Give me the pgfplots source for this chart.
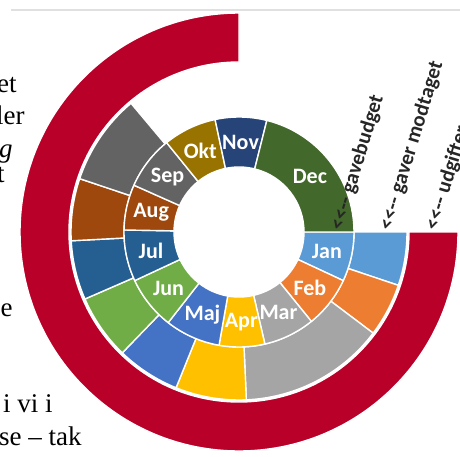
\documentclass[border=0pt]{standalone}
\usepackage{pgfplots}
\usepackage{pgfplotstable}
\pgfplotsset{compat=1.18}
\usepackage{fontspec}
\setmainfont{Liberation Serif}
\newfontfamily\calibri{Carlito}
\definecolor{cJan}{HTML}{5B9BD5}
\definecolor{cFeb}{HTML}{ED7D31}
\definecolor{cMar}{HTML}{A5A5A5}
\definecolor{cApr}{HTML}{FFC000}
\definecolor{cMaj}{HTML}{4472C4}
\definecolor{cJun}{HTML}{70AD47}
\definecolor{cJul}{HTML}{255E91}
\definecolor{cAug}{HTML}{9E480E}
\definecolor{cSep}{HTML}{636363}
\definecolor{cOkt}{HTML}{997300}
\definecolor{cNov}{HTML}{264478}
\definecolor{cDec}{HTML}{43682B}
\definecolor{cRed}{HTML}{B80028}

% inner ring: gavebudget (values in degrees of the ring)
\pgfplotstableread{
month value color
Jan 25 cJan
Feb 26 cFeb
Mar 26 cMar
Apr 23 cApr
Maj 28 cMaj
Jun 27 cJun
Jul 26 cJul
Aug 23 cAug
Sep 27 cSep
Okt 27 cOkt
Nov 26 cNov
Dec 76 cDec
}\gavebudget

% middle ring: gaver modtaget (rest of the ring is empty)
\pgfplotstableread{
month value color
Jan 18.5 cJan
Feb 18.5 cFeb
Mar 50.5 cMar
Apr 24.5 cApr
Maj 22 cMaj
Jun 22.5 cJun
Jul 20.5 cJul
Aug 21.5 cAug
Sep 31.5 cSep
}\modtaget

% outer ring: udgifter
\pgfplotstableread{
month value color
Udgifter 270 cRed
}\udgifter

\def\cx{239}
\def\cy{224}
\newcommand\drawring[4]{%
  \pgfplotstablegetrowsof{#1}%
  \pgfmathtruncatemacro\nrows{\pgfplotsretval-1}%
  \def\cum{0}%
  \pgfplotsforeachungrouped \ii in {0,...,\nrows}{%
    \pgfplotstablegetelem{\ii}{value}\of{#1}\let\v\pgfplotsretval
    \pgfplotstablegetelem{\ii}{color}\of{#1}\let\c\pgfplotsretval
    \pgfplotstablegetelem{\ii}{month}\of{#1}\let\m\pgfplotsretval
    \pgfmathsetmacro\a{-\cum}%
    \pgfmathsetmacro\b{-\cum-\v}%
    \pgfmathsetmacro\mid{-\cum-\v/2}%
    \edef\temp{\noexpand\fill[fill=\c,draw=white,line width=0.7pt,line join=round]
      ([shift={(axis cs:\cx,\cy)}]\a:#3) arc[start angle=\a,end angle=\b,radius=#3]
      -- ([shift={(axis cs:\cx,\cy)}]\b:#2) arc[start angle=\b,end angle=\a,radius=#2] -- cycle;}%
    \temp
    \ifnum#4=1
      \edef\temp{\noexpand\node[text=white,font=\noexpand\calibri\noexpand\bfseries\noexpand\fontsize{11}{12}\noexpand\selectfont] at ([shift={(axis cs:\cx,\cy)}]\mid:45pt) {\m};}%
      \temp
    \fi
    \pgfmathsetmacro\cum{\cum+\v}%
  }%
}

\begin{document}
\begin{tikzpicture}
\useasboundingbox (0,0) rectangle (230pt,228pt);
\clip (0,0) rectangle (230pt,228pt);
\begin{axis}[
  at={(0,0)}, anchor=origin,
  x=0.5pt, y=0.5pt,
  xmin=0, xmax=460, ymin=0, ymax=456,
  hide axis, clip=false,
]
\addplot[draw=black!12, line width=0.8pt] coordinates {(11,446) (460,446)};
\drawring{\udgifter}{85pt}{109.5pt}{0}
\drawring{\modtaget}{57.5pt}{84pt}{0}
\drawring{\gavebudget}{32.5pt}{57.5pt}{1}

\node[anchor=west, rotate=73, inner sep=0pt, text=black!85,
  font=\calibri\bfseries\fontsize{10.5}{11}\selectfont] at (axis cs:337,226) {<{}<-{}- gavebudget};
\node[anchor=west, rotate=73, inner sep=0pt, text=black!85,
  font=\calibri\bfseries\fontsize{10.5}{11}\selectfont] at (axis cs:386,226) {<{}<-{}- gaver modtaget};
\node[anchor=west, rotate=73, inner sep=0pt, text=black!85,
  font=\calibri\bfseries\fontsize{10.5}{11}\selectfont] at (axis cs:432,226) {<{}<-{}- udgifter};

\node[anchor=base east, inner sep=0pt, font=\fontsize{13.5}{15}\selectfont] at (axis cs:17,363) {et};
\node[anchor=base east, inner sep=0pt, font=\fontsize{13.5}{15}\selectfont] at (axis cs:25,331) {ler};
\node[anchor=base east, inner sep=0pt, font=\itshape\fontsize{13.5}{15}\selectfont] at (axis cs:13,299) {ig};
\node[anchor=base east, inner sep=0pt, font=\fontsize{13.5}{15}\selectfont] at (axis cs:5,274) {t};
\node[anchor=base east, inner sep=0pt, font=\fontsize{13.5}{15}\selectfont] at (axis cs:13,140) {e};
\node[anchor=base east, inner sep=0pt, font=\fontsize{13.5}{15}\selectfont] at (axis cs:53,44) {i vi i};
\node[anchor=base east, inner sep=0pt, font=\fontsize{13.5}{15}\selectfont] at (axis cs:82,11) {se -- tak};
\end{axis}
\end{tikzpicture}
\end{document}
